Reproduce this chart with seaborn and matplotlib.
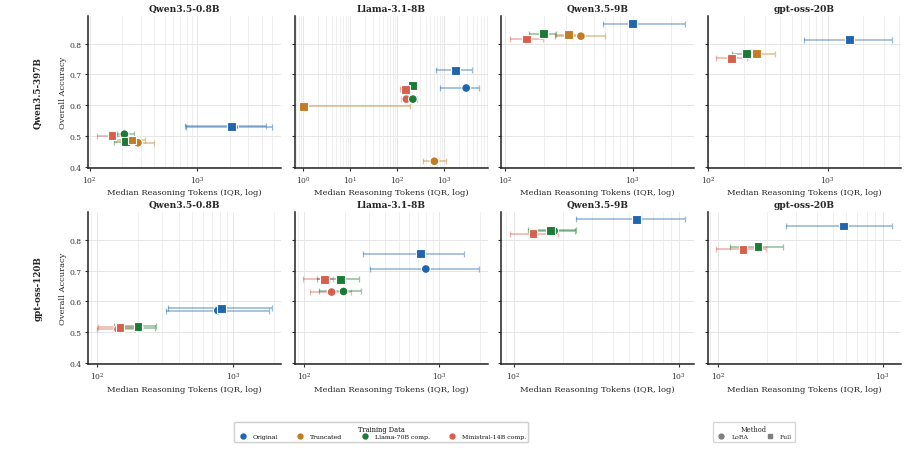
import numpy as np
import pandas as pd
import matplotlib
matplotlib.use("Agg")
import matplotlib.pyplot as plt
from matplotlib.lines import Line2D
from matplotlib.ticker import LogLocator, NullFormatter
import seaborn as sns

# panel layout
teachers = ["Qwen3.5-397B", "gpt-oss-120B"]
students = ["Qwen3.5-0.8B", "Llama-3.1-8B", "Qwen3.5-9B", "gpt-oss-20B"]
data_order = ["Original", "Truncated", "Llama-70B comp.", "Ministral-14B comp."]
methods = ["LoRA", "Full"]

# one entry per point (teacher, student, training data, method)
teacher_col = (["Qwen3.5-397B"] * 7 + ["Qwen3.5-397B"] * 8 + ["Qwen3.5-397B"] * 5 + ["Qwen3.5-397B"] * 4
               + ["gpt-oss-120B"] * 6 + ["gpt-oss-120B"] * 6 + ["gpt-oss-120B"] * 4 + ["gpt-oss-120B"] * 3)
student_col = (["Qwen3.5-0.8B"] * 7 + ["Llama-3.1-8B"] * 8 + ["Qwen3.5-9B"] * 5 + ["gpt-oss-20B"] * 4
               + ["Qwen3.5-0.8B"] * 6 + ["Llama-3.1-8B"] * 6 + ["Qwen3.5-9B"] * 4 + ["gpt-oss-20B"] * 3)
data_col = [
    # 397B -> 0.8B
    "Original", "Original", "Ministral-14B comp.", "Llama-70B comp.", "Llama-70B comp.", "Truncated", "Truncated",
    # 397B -> Llama-3.1-8B
    "Original", "Original", "Llama-70B comp.", "Ministral-14B comp.", "Ministral-14B comp.", "Llama-70B comp.",
    "Truncated", "Truncated",
    # 397B -> 9B
    "Original", "Llama-70B comp.", "Truncated", "Truncated", "Ministral-14B comp.",
    # 397B -> gpt-oss-20B
    "Original", "Truncated", "Llama-70B comp.", "Ministral-14B comp.",
    # 120B -> 0.8B
    "Original", "Original", "Ministral-14B comp.", "Ministral-14B comp.", "Llama-70B comp.", "Llama-70B comp.",
    # 120B -> Llama-3.1-8B
    "Original", "Original", "Ministral-14B comp.", "Llama-70B comp.", "Ministral-14B comp.", "Llama-70B comp.",
    # 120B -> 9B
    "Original", "Llama-70B comp.", "Llama-70B comp.", "Ministral-14B comp.",
    # 120B -> gpt-oss-20B
    "Original", "Llama-70B comp.", "Ministral-14B comp.",
]
method_col = [
    "Full", "LoRA", "Full", "LoRA", "Full", "Full", "LoRA",
    "Full", "LoRA", "Full", "Full", "LoRA", "LoRA", "Full", "LoRA",
    "Full", "Full", "Full", "LoRA", "Full",
    "Full", "Full", "Full", "Full",
    "Full", "LoRA", "Full", "LoRA", "Full", "LoRA",
    "Full", "LoRA", "Full", "Full", "LoRA", "LoRA",
    "Full", "Full", "LoRA", "Full",
    "Full", "Full", "Full",
]
median_tokens = [
    2100, 2200, 162, 211, 217, 248, 282,
    1750, 2900, 208, 151, 155, 213, 1.0, 612,
    1000, 200, 313, 392, 147,
    1520, 253, 208, 157,
    823, 771, 148, 143, 200, 203,
    724, 795, 141, 187, 160, 196,
    555, 168, 176, 131,
    578, 175, 142,
]
q1_tokens = [
    776, 790, 117, 179, 170, 178, 214,
    656, 811, 185, 114, 118, 175, 1.0, 347,
    582, 155, 246, 245, 109,
    638, 215, 157, 117,
    333, 319, 102, 100, 133, 140,
    275, 308, 99, 124, 111, 130,
    240, 122, 125, 95,
    260, 119, 98,
]
q3_tokens = [
    4360, 5000, 215, 258, 233, 329, 397,
    3830, 5400, 235, 186, 200, 260, 187, 1070,
    2580, 252, 385, 600, 198,
    3470, 365, 238, 210,
    1935, 1830, 200, 190, 270, 265,
    1520, 1960, 165, 253, 221, 263,
    1100, 240, 235, 186,
    1140, 249, 197,
]
accuracy = [
    0.532, 0.529, 0.501, 0.506, 0.481, 0.487, 0.478,
    0.714, 0.656, 0.663, 0.652, 0.620, 0.620, 0.596, 0.418,
    0.8645, 0.832, 0.829, 0.8245, 0.815,
    0.813, 0.768, 0.768, 0.7526,
    0.577, 0.570, 0.516, 0.509, 0.519, 0.512,
    0.755, 0.705, 0.671, 0.671, 0.630, 0.632,
    0.867, 0.831, 0.829, 0.8195,
    0.845, 0.777, 0.7686,
]

colors = ["#2166ac", "#c27c23", "#1b7a35", "#d6604d"]
palette = dict(zip(data_order, colors))
marker_map = {"LoRA": "o", "Full": "s"}

df = pd.DataFrame({
    "teacher": teacher_col, "student": student_col, "data": data_col, "method": method_col,
    "median": median_tokens, "q1": q1_tokens, "q3": q3_tokens, "acc": accuracy,
})
# LoRA first so the Full squares sit on top
df["morder"] = df["method"].map({"LoRA": 0, "Full": 1})
df = df.sort_values("morder", kind="stable")

sns.set_theme(style="whitegrid")
plt.rcParams["font.family"] = ["DejaVu Serif"]

fig, axes = plt.subplots(2, 4, figsize=(9.08, 4.52), dpi=100, sharey=True)
fig.subplots_adjust(left=0.097, right=0.992, top=0.962, bottom=0.192, wspace=0.07, hspace=0.29)

for i, t in enumerate(teachers):
    for j, s in enumerate(students):
        ax = axes[i, j]
        sub = df[(df.teacher == t) & (df.student == s)]
        for _, r in sub.iterrows():
            ax.errorbar(r["median"], r["acc"],
                        xerr=[[r["median"] - r["q1"]], [r["q3"] - r["median"]]],
                        fmt="none", ecolor=palette[r["data"]], alpha=0.45,
                        elinewidth=1.2, capsize=2, capthick=0.9, zorder=2)
        sns.scatterplot(data=sub, x="median", y="acc", hue="data", style="method",
                        palette=palette, markers=marker_map, s=40, edgecolor="white",
                        linewidth=0.8, legend=False, ax=ax, zorder=3)
        ax.set_xscale("log")
        ax.xaxis.set_minor_locator(LogLocator(base=10, subs=np.arange(2, 10)))
        ax.xaxis.set_minor_formatter(NullFormatter())
        ax.grid(True, which="major", color="#e6e6e6", linewidth=0.7)
        ax.grid(True, which="minor", axis="x", color="#ededed", linewidth=0.6)
        ax.set_yticks([0.4, 0.5, 0.6, 0.7, 0.8])
        ax.tick_params(axis="both", which="major", labelsize=5.5, length=2.5, width=0.8,
                       colors="#333333", pad=2, left=True, bottom=True)
        ax.tick_params(axis="both", which="minor", length=0)
        for sp in ["top", "right"]:
            ax.spines[sp].set_visible(False)
        for sp in ["left", "bottom"]:
            ax.spines[sp].set_color("#222222")
            ax.spines[sp].set_linewidth(1.1)
        ax.set_title(s, fontsize=6.6, fontweight="bold", pad=4)
        ax.set_xlabel("Median Reasoning Tokens (IQR, log)", fontsize=6, labelpad=2)
        if j == 0:
            ax.set_ylabel("Overall Accuracy", fontsize=6, labelpad=2)
        else:
            ax.set_ylabel("")

for i, t in enumerate(teachers):
    fig.text(0.042, [0.794, 0.361][i], t, rotation=90, ha="center", va="center",
             fontsize=6.3, fontweight="bold")

data_handles = [Line2D([], [], marker="o", linestyle="", color=c, markersize=3.5) for c in colors]
leg1 = fig.legend(data_handles, data_order, title="Training Data", loc="center",
                  bbox_to_anchor=(0.42, 0.042), ncol=4, fontsize=4.5, title_fontsize=4.8,
                  frameon=True, edgecolor="#cccccc", handletextpad=0.6, columnspacing=2.5,
                  borderpad=0.4, labelspacing=0.2)
method_handles = [Line2D([], [], marker=marker_map[m], linestyle="", color="#7f7f7f", markersize=3.5)
                  for m in methods]
leg2 = fig.legend(method_handles, methods, title="Method", loc="center",
                  bbox_to_anchor=(0.83, 0.042), ncol=2, fontsize=4.5, title_fontsize=4.8,
                  frameon=True, edgecolor="#cccccc", handletextpad=0.6, columnspacing=2.5,
                  borderpad=0.4, labelspacing=0.2)
fig.add_artist(leg1)

fig.savefig("out.png", dpi=100)
